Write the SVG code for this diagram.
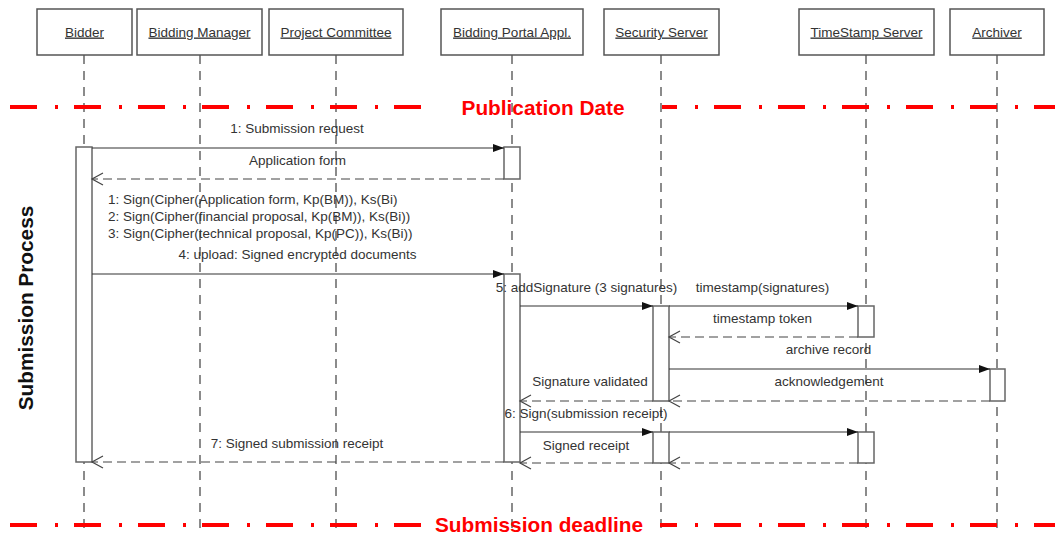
<svg xmlns="http://www.w3.org/2000/svg" width="1055" height="534" viewBox="0 0 1055 534">
  <defs>
    <style>
      .hdr { fill: #fff; stroke: #555; stroke-width: 1.5; }
      .hdr-t { font-family: "Liberation Sans", Arial, sans-serif; font-size: 13.5px; fill: #333; text-anchor: middle; text-decoration: underline; }
      .life { stroke: #666; stroke-width: 1.5; stroke-dasharray: 9 7; fill: none; }
      .bar { fill: #fff; stroke: #666; stroke-width: 1.5; }
      .msg { stroke: #333; stroke-width: 1.2; fill: none; marker-end: url(#solid); }
      .ret { stroke: #444; stroke-width: 1.2; fill: none; stroke-dasharray: 9 5; marker-end: url(#open); }
      .lbl { font-family: "Liberation Sans", Arial, sans-serif; font-size: 13.5px; fill: #333; text-anchor: middle; }
      .lbl-l { font-family: "Liberation Sans", Arial, sans-serif; font-size: 13.5px; fill: #333; }
      .mile { stroke: #ff0000; stroke-width: 4; stroke-dasharray: 27 18 3 16; fill: none; }
      .mile-t { font-family: "Liberation Sans", Arial, sans-serif; font-size: 20.8px; font-weight: bold; fill: #ff0000; text-anchor: middle; }
      .phase { font-family: "Liberation Sans", Arial, sans-serif; font-size: 20.8px; font-weight: bold; fill: #111; text-anchor: middle; }
    </style>
    <marker id="solid" markerUnits="userSpaceOnUse" markerWidth="12" markerHeight="10" refX="11" refY="5" orient="auto">
      <path d="M0,1 L11,5 L0,9 z" fill="#111"/>
    </marker>
    <marker id="open" markerUnits="userSpaceOnUse" markerWidth="14" markerHeight="14" refX="12" refY="7" orient="auto">
      <path d="M1,1 L12,7 L1,13" fill="none" stroke="#444" stroke-width="1.2"/>
    </marker>
  </defs>

  <rect width="1055" height="534" fill="#fff"/>

  <!-- lifelines -->
  <g id="lifelines">
    <line class="life" x1="84" y1="55" x2="84" y2="530"/>
    <line class="life" x1="200" y1="55" x2="200" y2="530"/>
    <line class="life" x1="336" y1="55" x2="336" y2="530"/>
    <line class="life" x1="512" y1="55" x2="512" y2="530"/>
    <line class="life" x1="661" y1="55" x2="661" y2="530"/>
    <line class="life" x1="866" y1="55" x2="866" y2="530"/>
    <line class="life" x1="997" y1="55" x2="997" y2="530"/>
  </g>

  <!-- milestones -->
  <g id="publication-date">
    <line class="mile" x1="10" y1="107" x2="421" y2="107"/>
    <line class="mile" x1="662" y1="107" x2="1055" y2="107" stroke-dashoffset="12"/>
    <text class="mile-t" x="543" y="114.5">Publication Date</text>
  </g>
  <g id="submission-deadline">
    <line class="mile" x1="10" y1="525" x2="421" y2="525"/>
    <line class="mile" x1="660" y1="525" x2="1055" y2="525" stroke-dashoffset="10"/>
    <text class="mile-t" x="539" y="532">Submission deadline</text>
  </g>

  <text class="phase" transform="translate(33,308) rotate(-90)">Submission Process</text>

  <!-- participants -->
  <g id="bidder">
    <rect class="hdr" x="37" y="9" width="95" height="46"/>
    <text class="hdr-t" x="84.5" y="36.5">Bidder</text>
    <rect class="bar" x="76" y="147" width="16" height="315"/>
  </g>
  <g id="bidding-manager">
    <rect class="hdr" x="137" y="9" width="125" height="46"/>
    <text class="hdr-t" x="199.5" y="36.5">Bidding Manager</text>
  </g>
  <g id="project-committee">
    <rect class="hdr" x="269" y="9" width="134" height="46"/>
    <text class="hdr-t" x="336" y="36.5">Project Committee</text>
  </g>
  <g id="bidding-portal">
    <rect class="hdr" x="441" y="9" width="142" height="46"/>
    <text class="hdr-t" x="512" y="36.5">Bidding Portal Appl.</text>
    <rect class="bar" x="504" y="147" width="16" height="32"/>
    <rect class="bar" x="504" y="274" width="16" height="188"/>
  </g>
  <g id="security-server">
    <rect class="hdr" x="604" y="9" width="115" height="46"/>
    <text class="hdr-t" x="661.5" y="36.5">Security Server</text>
    <rect class="bar" x="653" y="306" width="16" height="95"/>
    <rect class="bar" x="653" y="432" width="16" height="31"/>
  </g>
  <g id="timestamp-server">
    <rect class="hdr" x="799" y="9" width="135" height="46"/>
    <text class="hdr-t" x="866.5" y="36.5">TimeStamp Server</text>
    <rect class="bar" x="858" y="306" width="16" height="31"/>
    <rect class="bar" x="858" y="432" width="16" height="31"/>
  </g>
  <g id="archiver">
    <rect class="hdr" x="950" y="9" width="94" height="46"/>
    <text class="hdr-t" x="997" y="36.5">Archiver</text>
    <rect class="bar" x="990" y="369" width="15" height="32"/>
  </g>

  <!-- messages -->
  <g id="connectors">
    <line class="msg" x1="92" y1="148" x2="504" y2="148"/>
    <line class="ret" x1="504" y1="179" x2="92" y2="179"/>
    <line class="msg" x1="92" y1="274" x2="504" y2="274"/>
    <line class="msg" x1="520" y1="306" x2="653" y2="306"/>
    <line class="msg" x1="669" y1="306" x2="858" y2="306"/>
    <line class="ret" x1="858" y1="337" x2="669" y2="337"/>
    <line class="msg" x1="669" y1="369" x2="990" y2="369"/>
    <line class="ret" x1="990" y1="401" x2="669" y2="401"/>
    <line class="ret" x1="653" y1="401" x2="520" y2="401"/>
    <line class="msg" x1="520" y1="432" x2="653" y2="432"/>
    <line class="msg" x1="669" y1="432" x2="858" y2="432"/>
    <line class="ret" x1="858" y1="463" x2="669" y2="463"/>
    <line class="ret" x1="653" y1="463" x2="520" y2="463"/>
    <line class="ret" x1="504" y1="462" x2="92" y2="462"/>
  </g>

  <g id="labels">
    <text class="lbl" x="297" y="133">1: Submission request</text>
    <text class="lbl" x="297.5" y="164.5">Application form</text>
    <text class="lbl-l" x="108" y="203.5">1: Sign(Cipher(Application form, Kp(BM)), Ks(Bi)</text>
    <text class="lbl-l" x="108" y="220.5">2: Sign(Cipher(financial proposal, Kp(BM)), Ks(Bi))</text>
    <text class="lbl-l" x="108" y="237.5">3: Sign(Cipher(technical proposal, Kp(PC)), Ks(Bi))</text>
    <text class="lbl" x="297.5" y="258.5">4: upload: Signed encrypted documents</text>
    <text class="lbl" x="586.5" y="291.5">5: addSignature (3 signatures)</text>
    <text class="lbl" x="762.5" y="291.5">timestamp(signatures)</text>
    <text class="lbl" x="762.5" y="322.5">timestamp token</text>
    <text class="lbl" x="828.5" y="353.5">archive record</text>
    <text class="lbl" x="829" y="385.5">acknowledgement</text>
    <text class="lbl" x="590" y="385.5">Signature validated</text>
    <text class="lbl" x="586" y="417.5">6: Sign(submission receipt)</text>
    <text class="lbl" x="586" y="449.5">Signed receipt</text>
    <text class="lbl" x="297" y="447.5">7: Signed submission receipt</text>
  </g>
</svg>
